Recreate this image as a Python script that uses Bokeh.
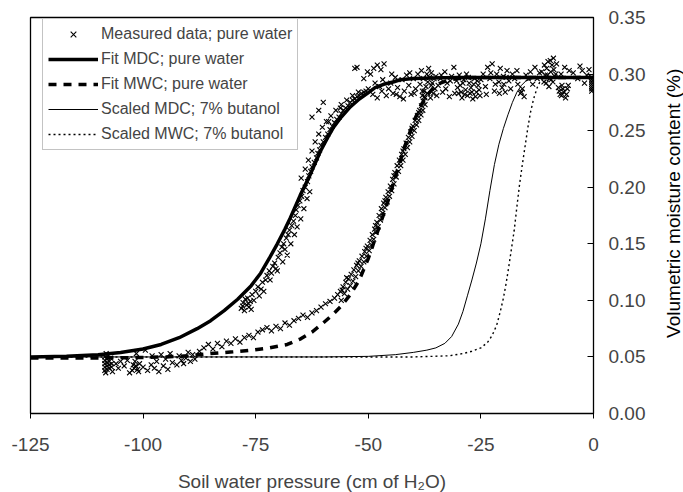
from bokeh.plotting import figure
from bokeh.layouts import row
from bokeh.models import Legend, LegendItem, FixedTicker, NumeralTickFormatter, Range1d
from bokeh.core.properties import value
from bokeh.embed import file_html
from bokeh.resources import INLINE

# ---------------- data ----------------
x_ticks = [-125, -100, -75, -50, -25, 0]
y_ticks = [0.0, 0.05, 0.10, 0.15, 0.20, 0.25, 0.30, 0.35]

mdc_x = [-125, -117, -110, -105, -100, -96, -92, -88, -85, -82, -79, -76, -73.9, -72, -70.2,
         -68.5, -67.3, -65.1, -62.8, -60.6, -59, -57.7, -56, -54, -52, -50.2, -48.5, -46.6,
         -44.5, -42.9, -40, -36, -30, 0]
mdc_y = [0.050, 0.0505, 0.052, 0.054, 0.057, 0.061, 0.067, 0.075, 0.082, 0.091, 0.101, 0.113,
         0.124, 0.137, 0.150, 0.163, 0.173, 0.193, 0.212, 0.232, 0.244, 0.253, 0.262, 0.271,
         0.278, 0.283, 0.288, 0.291, 0.293, 0.295, 0.296, 0.2965, 0.297, 0.297]

mwc_x = [-125, -110, -100, -95, -90, -85, -80, -76, -72, -68, -65, -62.5, -60, -58, -56, -54,
         -52, -50, -48, -46, -44, -42, -40, -38.5, -37, -35.5, -34, -32, -29, -25, 0]
mwc_y = [0.049, 0.049, 0.0495, 0.050, 0.051, 0.053, 0.0545, 0.056, 0.058, 0.061, 0.066, 0.072,
         0.080, 0.087, 0.095, 0.105, 0.118, 0.137, 0.160, 0.183, 0.209, 0.235, 0.257, 0.271,
         0.281, 0.288, 0.292, 0.295, 0.2965, 0.297, 0.297]

smdc_x = [-125, -60, -50, -44, -40, -37, -35, -33, -31.5, -30, -29, -28, -27, -26, -25, -24,
          -23, -22, -21, -20, -19, -18, -17, -16, -15, -13.5, -12, 0]
smdc_y = [0.050, 0.050, 0.0505, 0.052, 0.054, 0.056, 0.058, 0.062, 0.068, 0.079, 0.090, 0.104,
          0.118, 0.133, 0.150, 0.172, 0.197, 0.220, 0.238, 0.252, 0.264, 0.275, 0.284, 0.290,
          0.294, 0.296, 0.297, 0.297]

smwc_x = [-125, -40, -32, -29, -27, -25, -23.5, -22.5, -21.5, -20.7, -20, -19.4, -18.8, -18.2,
          -17.6, -17.0, -16.4, -15.8, -15.2, -14.6, -14.0, -13.3, -12.5, -11.8, -11, 0]
smwc_y = [0.050, 0.050, 0.051, 0.053, 0.055, 0.058, 0.063, 0.069, 0.078, 0.090, 0.102, 0.115,
          0.130, 0.146, 0.162, 0.183, 0.203, 0.220, 0.236, 0.252, 0.266, 0.278, 0.288, 0.294,
          0.297, 0.297]

# measured data: drainage branch
drain_x = [-78.2, -77.8, -77.5, -77.0, -76.8, -76.5, -76.2, -75.8, -77.3, -76.0,
           -75.0, -74.5, -73.8, -73.5, -72.8, -72.5, -72.0, -71.5, -71.2, -70.8, -70.5,
           -70.0, -69.6, -69.2, -68.8, -68.5, -68.2, -67.8, -67.5, -67.0, -66.6, -66.2,
           -66.0, -65.6, -65.2, -64.8, -64.5, -64.0, -63.5, -63.2, -62.8, -62.5, -62.0,
           -61.5, -61.2, -60.8, -60.5, -60.0, -59.5, -59.0, -58.5, -58.0, -57.5, -57.0,
           -56.5, -56.0, -55.5, -55.0, -54.5, -54.0, -53.5, -53.0, -52.5, -52.0, -51.5,
           -51.0, -50.5, -50.0, -60.0, -61.0, -62.5, -58.8, -56.2,
           -51.0, -50.2, -49.5, -48.8, -48.0, -47.2, -46.5, -52.5, -53.0,
           -74.2, -73.2, -71.8, -70.2, -69.0, -68.0, -67.2, -66.4, -65.8, -65.0, -64.3,
           -63.6, -63.0, -64.9, -64.0, -63.3, -62.5, -61.8, -61.0, -60.2, -59.3, -58.3,
           -57.2, -56.0, -54.8, -53.5, -52.2, -76.6, -75.4, -77.9]
drain_y = [0.093, 0.098, 0.091, 0.096, 0.102, 0.094, 0.099, 0.105, 0.101, 0.092,
           0.108, 0.112, 0.110, 0.116, 0.118, 0.122, 0.126, 0.124, 0.130, 0.133, 0.128,
           0.138, 0.142, 0.147, 0.150, 0.145, 0.155, 0.158, 0.162, 0.166, 0.170, 0.175,
           0.180, 0.184, 0.188, 0.192, 0.197, 0.200, 0.205, 0.210, 0.214, 0.218, 0.222,
           0.226, 0.230, 0.233, 0.237, 0.240, 0.244, 0.247, 0.251, 0.254, 0.257, 0.260,
           0.262, 0.265, 0.268, 0.270, 0.272, 0.275, 0.277, 0.278, 0.280, 0.281, 0.283,
           0.284, 0.285, 0.287, 0.275, 0.268, 0.262, 0.258, 0.270,
           0.296, 0.302, 0.300, 0.305, 0.308, 0.304, 0.309, 0.306, 0.305,
           0.104, 0.108, 0.118, 0.126, 0.134, 0.140, 0.150, 0.158, 0.165, 0.172, 0.181,
           0.190, 0.196, 0.208, 0.216, 0.224, 0.232, 0.240, 0.247, 0.253, 0.258, 0.263,
           0.268, 0.273, 0.277, 0.281, 0.284, 0.097, 0.100, 0.095]

# measured data: wetting branch
wet_x = [-108.5, -108.5, -108.5, -108.5, -108.5, -108.0, -108.0, -108.0, -108.0,
         -107.5, -107.5, -107.5, -107.0, -107.0, -108.2, -107.7, -107.2, -106.8, -108.3,
         -102.4, -102.0, -101.6, -101.2, -100.8, -102.2, -101.8, -101.0,
         -106.0, -105.0, -104.2, -103.5, -100.0, -99.0, -98.2, -97.5, -96.5, -95.5, -94.5,
         -93.5, -92.5, -91.5, -90.5, -89.5, -88.5, -105.5, -103.0, -97.0, -95.0, -91.0,
         -101.5, -99.5, -98.0, -96.0, -94.0, -92.0, -90.0, -89.0, -87.5, -86.5, -85.5,
         -84.5, -83.5, -82.5, -81.5, -80.5, -79.5, -78.5, -77.5, -76.5, -75.5, -74.5,
         -73.5, -72.5, -71.5, -70.5, -69.5, -68.5, -67.5, -66.5, -65.5, -64.5, -63.5,
         -62.5, -61.5, -60.5, -59.5, -58.5, -57.5, -56.8, -56.2, -55.6, -55.0, -54.4,
         -53.8, -53.2, -52.6, -52.0, -51.4, -50.8, -50.2, -49.6, -49.1, -48.6, -48.1,
         -47.6, -47.1, -46.6, -46.1, -45.6, -45.1, -44.6, -44.1, -43.6, -43.1, -42.6,
         -42.1, -41.6, -41.1, -40.6, -40.1, -39.6, -39.1, -38.6, -38.2, -37.8, -37.5,
         -38.0, -55.8, -54.8, -52.3, -50.5, -48.4, -46.3, -44.3, -42.3, -40.3, -38.8,
         -56.0, -55.3, -54.6, -54.0, -53.4, -52.8, -52.2, -51.6, -51.0, -50.4, -49.8,
         -49.3, -48.8, -48.3, -47.8, -47.3, -46.8, -46.3, -45.8, -45.3, -44.8, -44.3,
         -43.8, -43.3, -42.8, -42.3, -41.8, -41.3, -40.8, -40.3, -39.8, -39.3, -38.8,
         -38.3, -37.9, -37.4]
wet_y = [0.038, 0.041, 0.044, 0.047, 0.050, 0.039, 0.042, 0.045, 0.048,
         0.040, 0.043, 0.046, 0.041, 0.044, 0.053, 0.051, 0.049, 0.037, 0.036,
         0.038, 0.040, 0.042, 0.039, 0.044, 0.043, 0.046, 0.037,
         0.044, 0.046, 0.042, 0.047, 0.041, 0.038, 0.043, 0.040, 0.037, 0.042, 0.039,
         0.045, 0.043, 0.047, 0.049, 0.046, 0.048, 0.040, 0.036, 0.046, 0.048, 0.044,
         0.053, 0.056, 0.051, 0.052, 0.053, 0.051, 0.054, 0.052, 0.055, 0.058, 0.061,
         0.057, 0.062, 0.059, 0.064, 0.062, 0.066, 0.063, 0.067, 0.069, 0.067, 0.072,
         0.074, 0.076, 0.073, 0.077, 0.075, 0.080, 0.078, 0.082, 0.084, 0.087, 0.085,
         0.089, 0.091, 0.094, 0.097, 0.099, 0.102, 0.105, 0.108, 0.112, 0.116, 0.119,
         0.123, 0.127, 0.131, 0.135, 0.139, 0.143, 0.148, 0.153, 0.158, 0.163, 0.169,
         0.175, 0.181, 0.186, 0.191, 0.196, 0.201, 0.207, 0.213, 0.219, 0.224, 0.229,
         0.234, 0.239, 0.244, 0.249, 0.254, 0.259, 0.263, 0.268, 0.272, 0.276, 0.280,
         0.285, 0.109, 0.120, 0.133, 0.146, 0.166, 0.188, 0.210, 0.232, 0.252, 0.266,
         0.100, 0.106, 0.110, 0.113, 0.117, 0.121, 0.126, 0.130, 0.134, 0.139, 0.144,
         0.149, 0.154, 0.160, 0.165, 0.171, 0.177, 0.182, 0.187, 0.192, 0.197, 0.203,
         0.209, 0.214, 0.219, 0.224, 0.229, 0.235, 0.240, 0.245, 0.250, 0.255, 0.259,
         0.264, 0.268, 0.273]

# measured data: plateau near saturation
plat_x = [-45, -44.5, -44, -43.5, -43, -42.5, -42, -41.5, -41, -40.5, -40, -39.5, -39, -38.5,
          -38, -37.6, -37.2, -36.8, -36.4, -36, -35.6, -35.2, -37.8, -37.0, -36.2, -35.8,
          -35.0, -36.6,
          -34.5, -34, -33.5, -33, -32.5, -32, -31.5, -31,
          -30, -29.6, -29.2, -28.8, -28.4, -28, -27.6, -27.2, -26.8, -26.4, -26, -25.6,
          -25.2, -29.8, -28.2, -27, -25.8, -30.4,
          -24.5, -24, -23.5, -23, -22.5, -22, -21.5, -21, -20.7, -20.3, -20, -19.6, -19.2,
          -18.8,
          -18, -17, -16.2, -15.8, -15.4, -15, -14, -13, -12.5, -12,
          -11, -10.7, -10.4, -10.1, -9.8, -9.5, -9.2, -8.9, -8.6, -10.9, -9.9, -9.0,
          -7.8, -7.4, -7.0, -6.6, -6.2, -5.8, -7.2, -6.4, -5.4, -8.2,
          -4.5, -3.5, -2.5, -1.5, -0.4, -0.4, -0.4, -0.4,
          -49, -48, -47, -46, -45.5,
          -48.5, -47.5, -46.8, -44.8, -43.8, -42.2, -40.8, -39.8, -38.2, -37.4, -36.9,
          -36.0, -35.4, -34.8, -33.8, -32.8, -31.8, -30.8, -30.2, -29.4, -29.0, -28.6,
          -27.8, -27.4, -26.6, -26.2, -25.4, -25.0, -23.8, -22.8, -21.8, -20.9, -19.9,
          -19.4, -18.4, -17.5, -16.8, -16.0, -14.5, -13.5, -11.5, -10.5, -10.2, -9.6,
          -9.4, -8.8, -8.4, -7.6, -7.1, -6.8, -6.0, -5.6, -3.0, -2.0, -1.0, -0.4, -0.4,
          -0.4]
plat_y = [0.292, 0.283, 0.297, 0.288, 0.280, 0.295, 0.285, 0.299, 0.290, 0.282, 0.296,
          0.287, 0.300, 0.291,
          0.281, 0.285, 0.289, 0.293, 0.297, 0.301, 0.283, 0.287, 0.296, 0.300, 0.279,
          0.292, 0.298, 0.305,
          0.290, 0.296, 0.284, 0.302, 0.292, 0.280, 0.298, 0.306,
          0.283, 0.290, 0.279, 0.295, 0.286, 0.281, 0.292, 0.288, 0.278, 0.296, 0.284,
          0.290, 0.281, 0.299, 0.300, 0.284, 0.294, 0.294,
          0.300, 0.289, 0.306, 0.296, 0.309, 0.285, 0.300, 0.293, 0.305, 0.288, 0.298,
          0.284, 0.303, 0.294,
          0.300, 0.303, 0.283, 0.287, 0.280, 0.299, 0.302, 0.306, 0.296, 0.301,
          0.293, 0.299, 0.305, 0.311, 0.296, 0.302, 0.308, 0.314, 0.298, 0.308, 0.289,
          0.293,
          0.288, 0.282, 0.290, 0.284, 0.279, 0.287, 0.300, 0.306, 0.303, 0.309,
          0.301, 0.296, 0.303, 0.299, 0.285, 0.289, 0.293, 0.297,
          0.282, 0.279, 0.285, 0.281, 0.287,
          0.292, 0.289, 0.295, 0.300, 0.282, 0.278, 0.301, 0.283, 0.303, 0.279, 0.283,
          0.290, 0.296, 0.281, 0.299, 0.287, 0.294, 0.283, 0.288, 0.284, 0.292, 0.282,
          0.297, 0.283, 0.291, 0.280, 0.286, 0.295, 0.282, 0.301, 0.291, 0.283, 0.291,
          0.297, 0.287, 0.296, 0.291, 0.284, 0.296, 0.291, 0.302, 0.292, 0.299, 0.312,
          0.295, 0.304, 0.300, 0.285, 0.281, 0.287, 0.282, 0.290, 0.307, 0.292, 0.304,
          0.287, 0.291, 0.295]

meas_x = drain_x + wet_x + plat_x
meas_y = drain_y + wet_y + plat_y

x_title = "Soil water pressure (cm of H\u2082O)"
y_title = "Volumetric moisture content (%)"

# ---------------- main figure ----------------
FONT = "Liberation Sans"
p = figure(frame_width=563, frame_height=396, output_backend="svg", toolbar_location=None,
           x_range=Range1d(-125, 0), y_range=Range1d(0, 0.35), y_axis_location="right",
           min_border_left=30, min_border_top=17, min_border_right=62, min_border_bottom=79)
p.background_fill_color = "white"
p.border_fill_color = "white"
p.outline_line_color = "black"
p.outline_line_width = 1.3
p.xgrid.visible = False
p.ygrid.visible = False

r_meas = p.scatter(meas_x, meas_y, marker="x", size=7, line_color="black", line_width=1.1)
r_mdc = p.line(mdc_x, mdc_y, line_color="black", line_width=3.5)
r_mwc = p.line(mwc_x, mwc_y, line_color="black", line_width=3.5, line_dash="8 7")
r_smdc = p.line(smdc_x, smdc_y, line_color="black", line_width=1)
r_smwc = p.line(smwc_x, smwc_y, line_color="black", line_width=1.4, line_dash="2 3")

xa = p.xaxis[0]
xa.ticker = FixedTicker(ticks=x_ticks)
xa.formatter = NumeralTickFormatter(format="0")
xa.major_tick_in = 0
xa.major_tick_out = 5
xa.minor_tick_out = 0
xa.minor_tick_in = 0
xa.axis_line_color = "black"
xa.major_label_text_font = FONT
xa.major_label_text_font_size = "19px"
xa.major_label_standoff = 19
xa.axis_label = x_title
xa.axis_label_text_font = FONT
xa.axis_label_text_font_size = "19px"
xa.axis_label_text_font_style = "normal"
xa.axis_label_standoff = 17

ya = p.yaxis[0]
ya.ticker = FixedTicker(ticks=y_ticks)
ya.formatter = NumeralTickFormatter(format="0.00")
ya.major_tick_in = 6
ya.major_tick_out = 0
ya.minor_tick_out = 0
ya.minor_tick_in = 0
ya.major_label_text_font = FONT
ya.major_label_text_font_size = "19px"
ya.major_label_standoff = 15

legend = Legend(items=[
    LegendItem(label="Measured data; pure water", renderers=[r_meas]),
    LegendItem(label="Fit MDC; pure water", renderers=[r_mdc]),
    LegendItem(label="Fit MWC; pure water", renderers=[r_mwc]),
    LegendItem(label="Scaled MDC; 7% butanol", renderers=[r_smdc]),
    LegendItem(label="Scaled MWC; 7% butanol", renderers=[r_smwc]),
], location=(12, 263))
legend.label_text_font = FONT
legend.label_text_font_size = "16px"
legend.glyph_width = 50
legend.glyph_height = 20
legend.label_height = 20
legend.spacing = 5
legend.padding = 5
legend.label_standoff = 3
legend.border_line_color = "#888888"
legend.border_line_width = 1
legend.background_fill_alpha = 1
legend.margin = 0
p.add_layout(legend, "center")

# ---------------- narrow strip holding the y-axis title (reads bottom-to-top) ----------------
strip = figure(width=28, height=492, output_backend="svg", toolbar_location=None,
               x_range=Range1d(0, 28), y_range=Range1d(0, 492), min_border=0)
strip.axis.visible = False
strip.grid.visible = False
strip.outline_line_color = None
strip.background_fill_color = "white"
strip.border_fill_color = "white"
strip.text(x=[18], y=[260], text=[y_title], angle=1.5708, text_align="center",
           text_baseline="middle", text_font=value(FONT), text_font_size="19px",
           text_color="black")

layout = row(p, strip, spacing=0)
open("out.html", "w").write(file_html(layout, INLINE))
